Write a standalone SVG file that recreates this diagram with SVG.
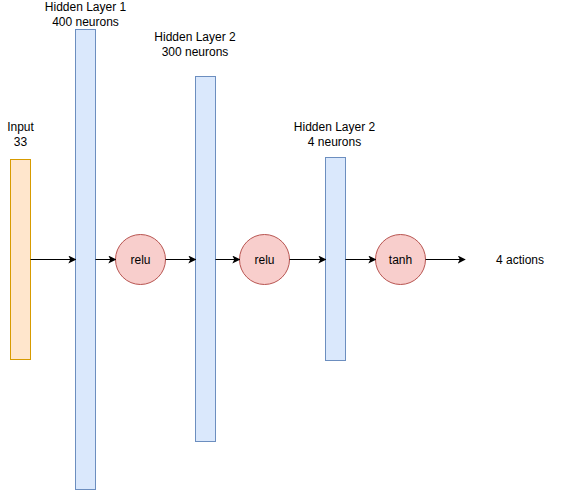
<svg xmlns="http://www.w3.org/2000/svg" width="576" height="490" viewBox="0 0 576 490">
  <style>
    text { font-family: "Liberation Sans", Arial, Helvetica, sans-serif; font-size: 12px; fill: #000; text-anchor: middle; }
    .input { fill: #ffe6cc; stroke: #d79b00; stroke-width: 1; }
    .layer { fill: #dae8fc; stroke: #6c8ebf; stroke-width: 1; }
    .act { fill: #f8cecc; stroke: #b85450; stroke-width: 1; }
    .edge { fill: none; stroke: #000; stroke-width: 1; marker-end: url(#arrow); }
  </style>
  <defs>
    <marker id="arrow" viewBox="0 0 10 10" refX="9" refY="5" markerWidth="8" markerHeight="8" markerUnits="userSpaceOnUse" orient="auto">
      <path d="M0,0 L10,5 L0,10 L2.5,5 Z" fill="#000"/>
    </marker>
  </defs>
  <rect width="576" height="490" fill="#fff"/>

  <g id="input">
    <rect class="input" x="10.5" y="159.5" width="20" height="200"/>
    <text x="20.5" y="131">Input</text>
    <text x="20.5" y="146">33</text>
  </g>

  <g id="hidden1">
    <rect class="layer" x="75.5" y="29.5" width="20" height="460"/>
    <text x="85.5" y="11">Hidden Layer 1</text>
    <text x="85.5" y="26">400 neurons</text>
  </g>

  <g id="relu1">
    <circle class="act" cx="140.5" cy="259.5" r="25"/>
    <text x="140.5" y="264">relu</text>
  </g>

  <g id="hidden2">
    <rect class="layer" x="195.5" y="76.5" width="20" height="365"/>
    <text x="195" y="41">Hidden Layer 2</text>
    <text x="195" y="56">300 neurons</text>
  </g>

  <g id="relu2">
    <circle class="act" cx="264.5" cy="259.5" r="25"/>
    <text x="264.5" y="264">relu</text>
  </g>

  <g id="hidden3">
    <rect class="layer" x="325.5" y="157.5" width="20" height="203"/>
    <text x="334.5" y="131">Hidden Layer 2</text>
    <text x="334.5" y="146">4 neurons</text>
  </g>

  <g id="tanh">
    <circle class="act" cx="400.5" cy="259.5" r="25"/>
    <text x="400.5" y="264">tanh</text>
  </g>

  <g id="output">
    <text x="520" y="264">4 actions</text>
  </g>

  <g id="connectors">
    <path class="edge" d="M30.5,259.5 H75.5"/>
    <path class="edge" d="M95.5,259.5 H115.5"/>
    <path class="edge" d="M165.5,259.5 H195.5"/>
    <path class="edge" d="M215.5,259.5 H239.5"/>
    <path class="edge" d="M289.5,259.5 H325.5"/>
    <path class="edge" d="M345.5,259.5 H375.5"/>
    <path class="edge" d="M425.5,259.5 H465"/>
  </g>
</svg>
